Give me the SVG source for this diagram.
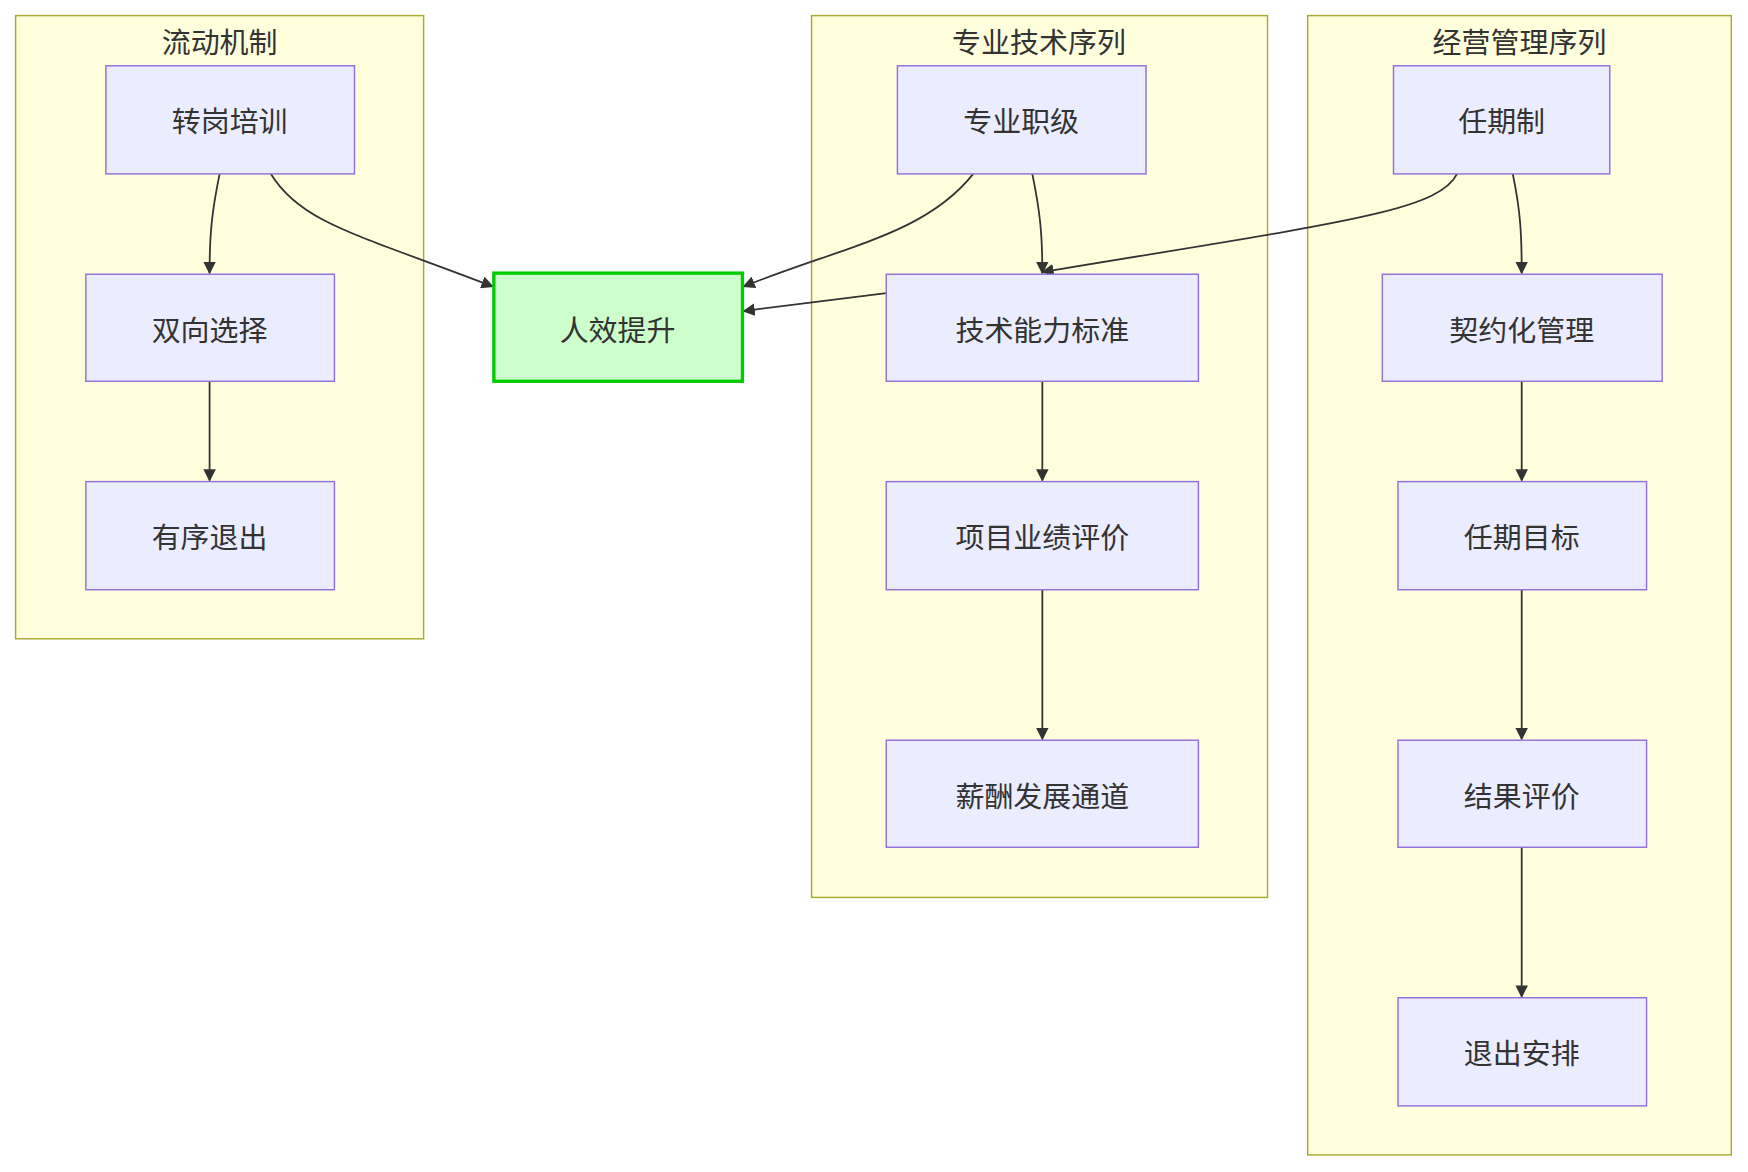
<svg xmlns="http://www.w3.org/2000/svg" width="1748" height="1172" viewBox="0 0 1748 1172">
<style>
.c{fill:#ffffde;stroke:#aaaa33;stroke-width:1.3}
.n rect{fill:#ececff;stroke:#9370db;stroke-width:1.3}
text{font-family:"Noto Sans CJK SC","Liberation Sans",sans-serif;font-size:26px;fill:#333;text-anchor:middle;dominant-baseline:central}
.e{fill:none;stroke:#333;stroke-width:1.6;marker-end:url(#a)}
</style>
<defs><marker id="a" viewBox="0 0 10 10" refX="9" refY="5" markerWidth="7" markerHeight="7" orient="auto"><path d="M0,0L10,5L0,10z" fill="#333"/></marker></defs>
<rect width="1748" height="1172" fill="#fff"/>
<g transform="scale(1.1148)">
<g id="cluster1"><rect class="c" x="14" y="14" width="366" height="559"/><text x="197" y="36">流动机制</text></g>
<g id="cluster2"><rect class="c" x="728" y="14" width="409" height="791"/><text x="932" y="36">专业技术序列</text></g>
<g id="cluster3"><rect class="c" x="1173" y="14" width="380" height="1022"/><text x="1363" y="36">经营管理序列</text></g>
<g id="edges">
<path class="e" d="M197,156C190,190 188,210 188,245"/>
<path class="e" d="M243,156C270,200 320,210 442,257"/>
<path class="e" d="M188,342L188,431"/>
<path class="e" d="M873,156C830,210 760,220 667,257"/>
<path class="e" d="M926,156C933,190 935,210 935,245"/>
<path class="e" d="M1307,156C1290,190 1200,200 935,244"/>
<path class="e" d="M795,263L667,279"/>
<path class="e" d="M935,342L935,431"/>
<path class="e" d="M935,529L935,663"/>
<path class="e" d="M1357,156C1364,190 1365,210 1365,245"/>
<path class="e" d="M1365,342L1365,431"/>
<path class="e" d="M1365,529L1365,663"/>
<path class="e" d="M1365,760L1365,894"/>
</g>
<g id="n1" class="n"><rect x="95" y="59" width="223" height="97"/><text x="206" y="107">转岗培训</text></g>
<g id="n2" class="n"><rect x="77" y="246" width="223" height="96"/><text x="188" y="294">双向选择</text></g>
<g id="n3" class="n"><rect x="77" y="432" width="223" height="97"/><text x="188" y="480">有序退出</text></g>
<g id="n4"><rect x="443" y="245" width="223" height="97" fill="#ccffcc" stroke="#00cc00" stroke-width="3"/><text x="554" y="294">人效提升</text></g>
<g id="n5" class="n"><rect x="805" y="59" width="223" height="97"/><text x="916" y="107">专业职级</text></g>
<g id="n6" class="n"><rect x="795" y="246" width="280" height="96"/><text x="935" y="294">技术能力标准</text></g>
<g id="n7" class="n"><rect x="795" y="432" width="280" height="97"/><text x="935" y="480">项目业绩评价</text></g>
<g id="n8" class="n"><rect x="795" y="664" width="280" height="96"/><text x="935" y="712">薪酬发展通道</text></g>
<g id="n9" class="n"><rect x="1250" y="59" width="194" height="97"/><text x="1347" y="107">任期制</text></g>
<g id="n10" class="n"><rect x="1240" y="246" width="251" height="96"/><text x="1365" y="294">契约化管理</text></g>
<g id="n11" class="n"><rect x="1254" y="432" width="223" height="97"/><text x="1365" y="480">任期目标</text></g>
<g id="n12" class="n"><rect x="1254" y="664" width="223" height="96"/><text x="1365" y="712">结果评价</text></g>
<g id="n13" class="n"><rect x="1254" y="895" width="223" height="97"/><text x="1365" y="943">退出安排</text></g>
</g>
</svg>
